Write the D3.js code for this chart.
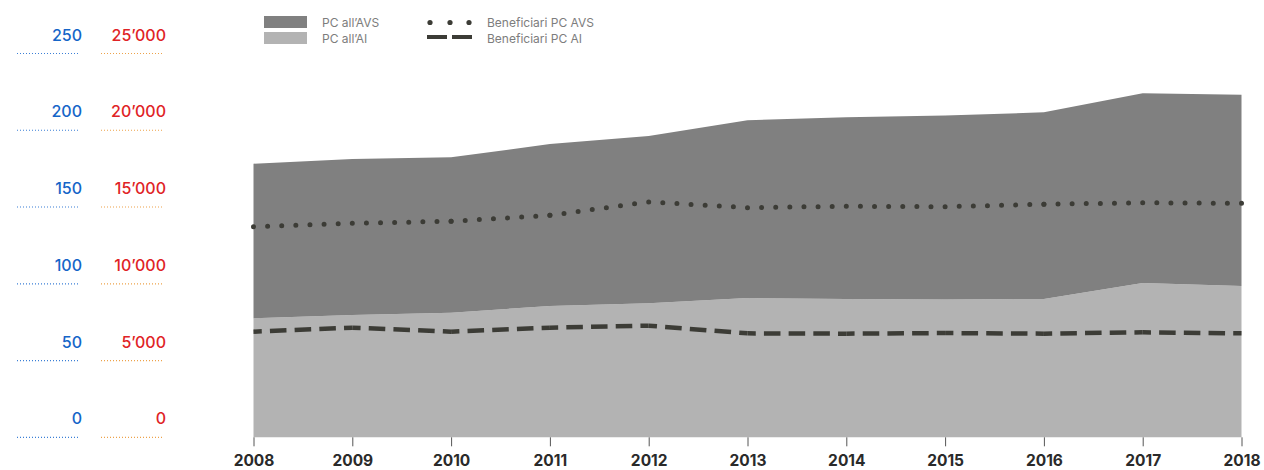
<!DOCTYPE html>
<html><head><meta charset="utf-8">
<script src="https://cdn.jsdelivr.net/npm/d3@7"></script>
<style>body{margin:0;background:#fff;} svg{display:block;font-family:Inter,"DejaVu Sans",sans-serif;}</style>
</head><body><svg id="c" width="1264" height="470"></svg>
<script>
const years = [2008,2009,2010,2011,2012,2013,2014,2015,2016,2017,2018];
const pcAI  = [77.5,79.7,81.2,85.5,87.3,90.7,90.1,89.8,90.1,100.5,98.6];
const pcAVS = [100.7,101.5,101.2,105.5,109.0,115.8,118.3,119.8,121.6,123.6,124.6];
const benAVS = [13720,13940,14070,14460,15330,14960,15050,15020,15180,15280,15240];
const benAI  = [6880,7140,6880,7140,7270,6770,6750,6790,6750,6840,6770];
const leftTicks = [0,50,100,150,200,250];
const rightTicks = [0,5000,10000,15000,20000,25000];
const rightTickLabels = ["0","5’000","10’000","15’000","20’000","25’000"];

const svg = d3.select("#c");
const x = d3.scaleLinear().domain([2008,2018]).range([253.5,1241.5]);
const y = d3.scaleLinear().domain([0,250]).range([437.3,53.5]);
const y2 = d3.scaleLinear().domain([0,25000]).range([437.3,53.5]);

const data = years.map((yr,i)=>({year:yr, AI:pcAI[i], AVS:pcAVS[i]}));
const stack = d3.stack().keys(["AI","AVS"])(data);
const area = d3.area().x(d=>x(d.data.year)).y0(d=>y(d[0])).y1(d=>y(d[1]));
const fills = {AI:"#b3b3b3", AVS:"#808080"};
svg.append("g").selectAll("path").data(stack).join("path")
  .attr("d", area).attr("fill", d=>fills[d.key]);

// left axis labels
const gl = svg.append("g");
leftTicks.forEach((t,i)=>{
  const yy = y(t);
  gl.append("text").attr("x",82).attr("y",yy-13).attr("text-anchor","end")
    .attr("font-size",16).attr("font-weight",500).attr("fill","#1565c8").text(t);
  gl.append("line").attr("x1",17).attr("x2",80).attr("y1",yy).attr("y2",yy)
    .attr("stroke","#3b7fd6").attr("stroke-width",1.2).attr("stroke-dasharray","1 2");
  gl.append("text").attr("x",166).attr("y",y2(rightTicks[i])-13).attr("text-anchor","end")
    .attr("font-size",16).attr("font-weight",500).attr("fill","#df2326").text(rightTickLabels[i]);
  gl.append("line").attr("x1",101).attr("x2",164).attr("y1",y2(rightTicks[i])).attr("y2",y2(rightTicks[i]))
    .attr("stroke","#eda24a").attr("stroke-width",1.2).attr("stroke-dasharray","1 2");
});

// x axis
const xAxis = d3.axisBottom(x).tickValues(years).tickFormat(d3.format("d")).tickSize(9).tickPadding(9);
const gx = svg.append("g").attr("transform","translate(0,437.3)").call(xAxis);
gx.select(".domain").remove();
gx.selectAll(".tick line").attr("stroke","#555");
gx.selectAll(".tick text").attr("font-size",15.5).attr("font-weight",700).attr("fill","#2a2a2a")
  .attr("font-family","Inter,sans-serif");

// lines, drawn per segment
const lineColor = "#3c3c36";
function segLines(vals, kind){
  const g = svg.append("g");
  for(let i=0;i<vals.length-1;i++){
    const x1=x(years[i]), x2=x(years[i+1]), ya=y2(vals[i]), yb=y2(vals[i+1]);
    const L = Math.hypot(x2-x1, yb-ya);
    const ln = g.append("line").attr("x1",x1).attr("x2",x2).attr("y1",ya).attr("y2",yb)
      .attr("stroke",lineColor);
    if(kind==="dot"){
      const n = Math.round(L/14.2), p=L/n;
      ln.attr("stroke-width",5).attr("stroke-linecap","round").attr("stroke-dasharray",`0 ${p}`);
    } else {
      const n = Math.round(L/24.7), p=L/n, d=p*0.67;
      ln.attr("stroke-width",4.5).attr("stroke-dasharray",`${d} ${p-d}`).attr("stroke-dashoffset",d/2);
    }
  }
}
segLines(benAVS,"dot");
segLines(benAI,"dash");

// legend
const lg = svg.append("g").attr("font-size",12).attr("fill","#7d7d7d");
lg.append("rect").attr("x",264).attr("y",16).attr("width",43).attr("height",12).attr("fill","#808080");
lg.append("rect").attr("x",264).attr("y",32).attr("width",43).attr("height",12).attr("fill","#b3b3b3");
lg.append("text").attr("x",322).attr("y",26.5).text("PC all’AVS");
lg.append("text").attr("x",322).attr("y",42.5).text("PC all’AI");
[430,450,469].forEach(cx=>lg.append("circle").attr("cx",cx).attr("cy",22.5).attr("r",2.6).attr("fill",lineColor));
lg.append("line").attr("x1",427).attr("x2",472).attr("y1",37).attr("y2",37)
  .attr("stroke",lineColor).attr("stroke-width",4).attr("stroke-dasharray","20 5");
lg.append("text").attr("x",487).attr("y",26.5).text("Beneficiari PC AVS");
lg.append("text").attr("x",487).attr("y",42.5).text("Beneficiari PC AI");
</script></body></html>
